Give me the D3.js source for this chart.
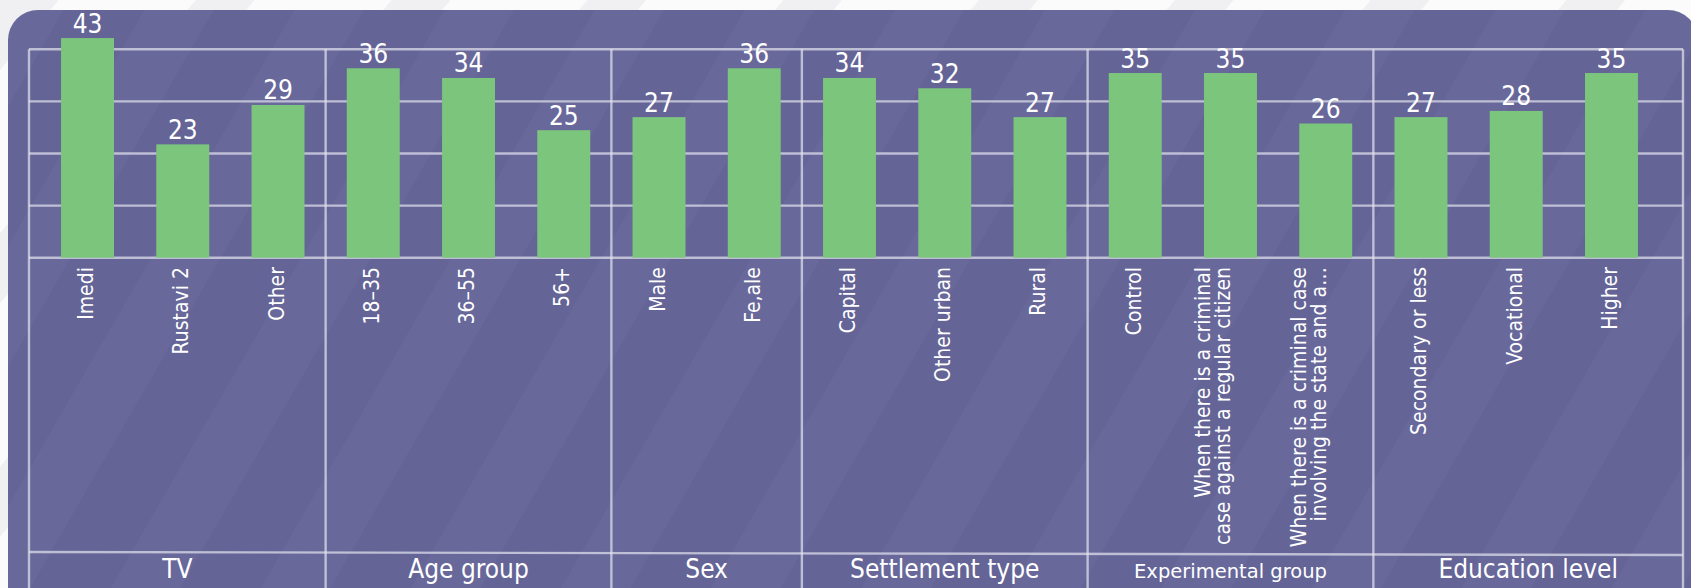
<!DOCTYPE html>
<html>
<head>
<meta charset="utf-8">
<script src="https://cdn.jsdelivr.net/npm/d3@7"></script>
<style>
  html, body { margin: 0; padding: 0; background: #fafafa; }
  svg { display: block; }
</style>
</head>
<body>
<svg id="chart" width="1691" height="588"></svg>
<script>
// ---------- data ----------
const groups = ["TV", "Age group", "Sex", "Settlement type", "Experimental group", "Education level"];
const categories = [
  "Imedi", "Rustavi 2", "Other",
  "18–35", "36–55", "56+",
  "Male", "Fe,ale",
  "Capital", "Other urban", "Rural",
  "Control",
  "When there is a criminal\ncase against a regular citizen",
  "When there is a criminal case\ninvolving the state and a…",
  "Secondary or less", "Vocational", "Higher"
];
const categoryGroup = [
  "TV", "TV", "TV",
  "Age group", "Age group", "Age group",
  "Sex", "Sex",
  "Settlement type", "Settlement type", "Settlement type",
  "Experimental group", "Experimental group", "Experimental group",
  "Education level", "Education level", "Education level"
];
const values = [43, 23, 29, 36, 34, 25, 27, 36, 34, 32, 27, 35, 35, 26, 27, 28, 35];
const gridRows = [0, 1, 2, 3, 4];

// ---------- layout ----------
const W = 1691, H = 588;
const frameL = 29, frameR = 1683, plotTop = 49.3, plotBottom = 257.7, groupLineY = 552, bottomY = 588;

const svg = d3.select("#chart");
const defs = svg.append("defs");

// outside background stripes
const pOut = defs.append("pattern").attr("id", "outStripes")
  .attr("patternUnits", "userSpaceOnUse").attr("width", 150).attr("height", 150)
  .attr("patternTransform", "rotate(40)");
pOut.append("rect").attr("width", 150).attr("height", 150).attr("fill", "#fbfbfb");
pOut.append("rect").attr("x", 0).attr("width", 45).attr("height", 150).attr("fill", "#f0f0f2");

// panel stripes (subtle)
const pIn = defs.append("pattern").attr("id", "inStripes")
  .attr("patternUnits", "userSpaceOnUse").attr("width", 130).attr("height", 130)
  .attr("patternTransform", "rotate(30)");
pIn.append("rect").attr("width", 130).attr("height", 130).attr("fill", "#646497");
pIn.append("rect").attr("x", 0).attr("width", 60).attr("height", 130).attr("fill", "#68689b");

svg.append("rect").attr("width", W).attr("height", H).attr("fill", "url(#outStripes)");
svg.append("rect").attr("x", 8).attr("y", 10).attr("width", 1690).attr("height", 610)
  .attr("rx", 30).attr("ry", 30).attr("fill", "url(#inStripes)");

// ---------- scales ----------
const keys = categories.map((c, i) => i);
const x = d3.scaleBand().domain(keys).range([39.9, 1659.1]).paddingInner(0.444).paddingOuter(0.222);
const y = d3.scaleLog().domain([11.8, 40.25]).range([plotBottom, plotTop]);
const row = d3.scaleLinear().domain([0, 4]).range([plotBottom, plotTop]);

const gridColor = "rgba(228,228,240,0.7)";
const g = svg.append("g");

// horizontal grid lines
g.selectAll("line.h").data(gridRows).join("line")
  .attr("x1", frameL).attr("x2", frameR)
  .attr("y1", d => row(d)).attr("y2", d => row(d))
  .attr("stroke", gridColor).attr("stroke-width", 2.4);
g.append("line").attr("x1", frameL).attr("x2", frameR).attr("y1", groupLineY).attr("y2", groupLineY + 3)
  .attr("stroke", gridColor).attr("stroke-width", 2.4);

// group boundaries
const step = x.step();
const gap = step - x.bandwidth();
const groupSpans = groups.map(gr => {
  const idx = keys.filter(i => categoryGroup[i] === gr);
  const first = idx[0], last = idx[idx.length - 1];
  return {
    name: gr,
    x0: first === 0 ? frameL : x(first) - gap / 2,
    x1: last === keys.length - 1 ? frameR : x(last) + x.bandwidth() + gap / 2
  };
});
const vx = [frameL].concat(groupSpans.map(s => s.x1));
g.selectAll("line.v").data(vx).join("line")
  .attr("x1", d => d).attr("x2", d => d)
  .attr("y1", plotTop).attr("y2", bottomY)
  .attr("stroke", gridColor).attr("stroke-width", 2.4);

// bars
g.selectAll("rect.bar").data(keys).join("rect")
  .attr("x", i => x(i)).attr("width", x.bandwidth())
  .attr("y", i => y(values[i])).attr("height", i => plotBottom - y(values[i]))
  .attr("fill", "#7bc57c");

// value labels
g.selectAll("text.val").data(keys).join("text")
  .attr("x", i => x(i) + x.bandwidth() / 2)
  .attr("y", i => y(values[i]) - 5.5)
  .attr("text-anchor", "middle")
  .attr("fill", "#ffffff")
  .attr("font-family", "'DejaVu Sans Condensed', 'DejaVu Sans', sans-serif")
  .attr("font-size", 26)
  .text(i => values[i]);

// category labels (rotated)
const catG = g.selectAll("g.cat").data(keys).join("g")
  .attr("transform", i => `translate(${x(i) + x.bandwidth() / 2},267) rotate(-90)`);
catG.each(function(i) {
  const lines = categories[i].split("\n");
  const n = lines.length;
  const t = d3.select(this).append("text")
    .attr("text-anchor", "end")
    .attr("fill", "#ffffff")
    .attr("font-family", "'DejaVu Sans Condensed', 'DejaVu Sans', sans-serif")
    .attr("font-size", 21);
  lines.forEach((ln, k) => {
    const base = n === 1 ? 5.5 : -(n - 1 - k) * 20;
    t.append("tspan").attr("x", 0).attr("y", base).text(ln);
  });
});

// group labels
g.selectAll("text.grp").data(groupSpans).join("text")
  .attr("x", d => (d.x0 + d.x1) / 2)
  .attr("y", 578)
  .attr("text-anchor", "middle")
  .attr("fill", "#ffffff")
  .attr("font-family", d => d.name === "Experimental group" ? "'DejaVu Sans', sans-serif" : "'DejaVu Sans Condensed', 'DejaVu Sans', sans-serif")
  .attr("font-size", d => d.name === "Experimental group" ? 19.5 : 26)
  .text(d => d.name);
</script>
</body>
</html>
